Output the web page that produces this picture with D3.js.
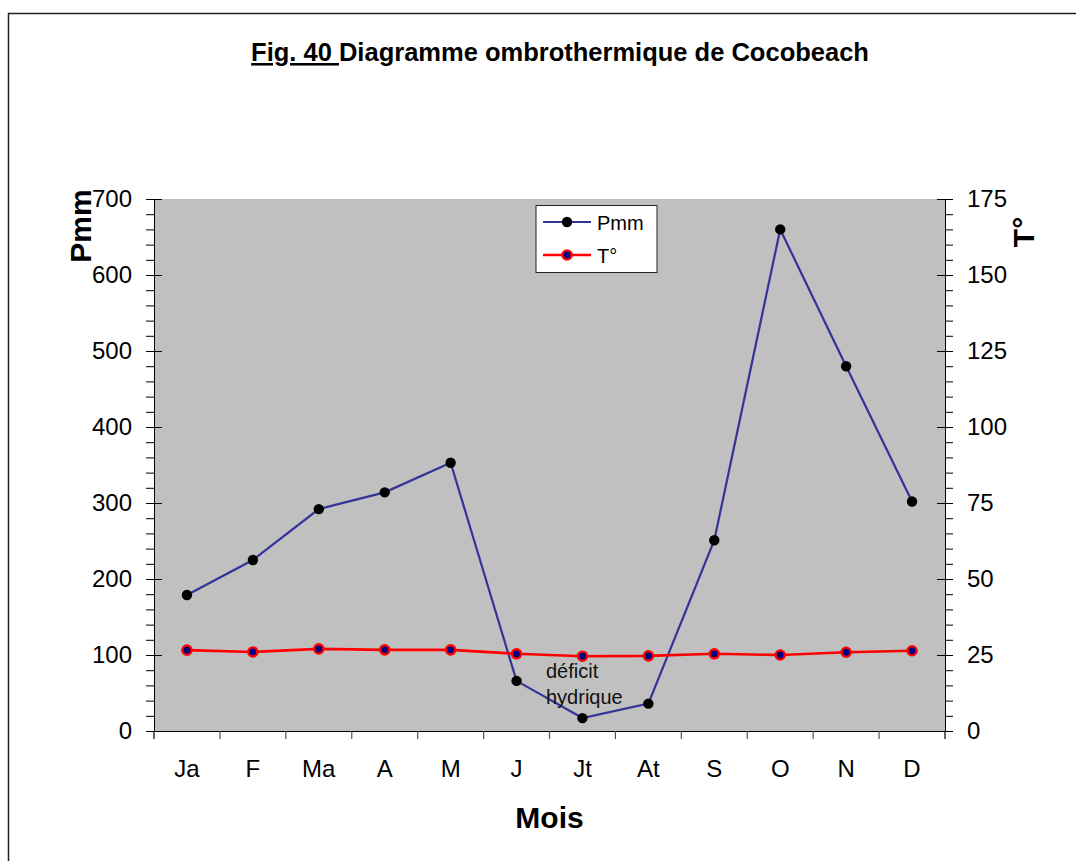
<!DOCTYPE html>
<html>
<head>
<meta charset="utf-8">
<script src="https://cdn.jsdelivr.net/npm/d3@7/dist/d3.min.js"></script>
<style>
  html, body { margin: 0; padding: 0; background: #fff; }
  svg { display: block; font-family: "Liberation Sans", Arial, sans-serif; }
</style>
</head>
<body>
<svg id="chart" width="1076" height="861"></svg>
<script>
// Monthly data for Cocobeach
const months = ["Ja", "F", "Ma", "A", "M", "J", "Jt", "At", "S", "O", "N", "D"];
const rainfall = [179, 225, 292, 314, 353, 66, 17, 36, 251, 660, 480, 302];          // Pmm
const temperature = [26.6, 26.0, 27.0, 26.7, 26.7, 25.4, 24.6, 24.7, 25.4, 25.0, 25.9, 26.4]; // T°
const leftTicks = [0, 100, 200, 300, 400, 500, 600, 700];
const rightTicks = [0, 25, 50, 75, 100, 125, 150, 175];

const svg = d3.select("#chart");
const plot = { left: 154, right: 945, top: 199, bottom: 731 };

const x = d3.scaleBand().domain(months).range([plot.left, plot.right]);
const yL = d3.scaleLinear().domain([0, 700]).range([plot.bottom, plot.top]);
const yR = d3.scaleLinear().domain([0, 175]).range([plot.bottom, plot.top]);
const cx = d => x(d) + x.bandwidth() / 2;

// page frame
svg.append("path")
  .attr("d", "M8.5,900 L8.5,13.5 L1100,13.5")
  .attr("fill", "none").attr("stroke", "#222").attr("stroke-width", 1.5);

// title
const title = svg.append("text")
  .attr("x", 560).attr("y", 61)
  .attr("text-anchor", "middle")
  .attr("font-weight", "bold").attr("font-size", 25.5).attr("fill", "#000");
title.append("tspan").attr("text-decoration", "underline").text("Fig. 40 ");
title.append("tspan").text("Diagramme ombrothermique de Cocobeach");

// plot background
svg.append("rect")
  .attr("x", plot.left).attr("y", plot.top)
  .attr("width", plot.right - plot.left).attr("height", plot.bottom - plot.top)
  .attr("fill", "#c0c0c0");

// left axis: minor ticks then major ticks crossing the axis
svg.append("g").attr("transform", `translate(${plot.left},0)`)
  .call(d3.axisLeft(yL).tickValues(d3.range(0, 701, 20)).tickSize(8).tickFormat(""))
  .call(g => g.select(".domain").remove());
const gl = svg.append("g").attr("transform", `translate(${plot.left},0)`)
  .call(d3.axisLeft(yL).tickValues(leftTicks).tickSizeInner(8).tickSizeOuter(0).tickPadding(14));
gl.selectAll(".tick line").attr("x1", 8);
gl.selectAll(".tick text").attr("font-size", 24).attr("font-family", "Liberation Sans, Arial, sans-serif").attr("fill", "#000");
gl.select(".domain").attr("stroke", "#000");

// right axis
svg.append("g").attr("transform", `translate(${plot.right},0)`)
  .call(d3.axisRight(yR).tickValues(d3.range(0, 176, 5)).tickSize(8).tickFormat(""))
  .call(g => g.select(".domain").remove());
const gr = svg.append("g").attr("transform", `translate(${plot.right},0)`)
  .call(d3.axisRight(yR).tickValues(rightTicks).tickSizeInner(8).tickSizeOuter(0).tickPadding(14));
gr.selectAll(".tick line").attr("x1", -8);
gr.selectAll(".tick text").attr("font-size", 24).attr("font-family", "Liberation Sans, Arial, sans-serif").attr("fill", "#000");
gr.select(".domain").attr("stroke", "#000");

// bottom axis: month labels centred, ticks on band edges
const gb = svg.append("g").attr("transform", `translate(0,${plot.bottom})`)
  .call(d3.axisBottom(x).tickSize(0).tickPadding(29));
gb.select(".domain").attr("d", `M${plot.left - 8},0.5H${plot.right + 8}`).attr("stroke", "#000");
gb.selectAll(".tick text").attr("font-size", 24).attr("font-family", "Liberation Sans, Arial, sans-serif").attr("fill", "#000");
const edges = months.map(m => x(m)).concat([plot.right]);
gb.selectAll("line.edge").data(edges).join("line")
  .attr("class", "edge")
  .attr("x1", d => d).attr("x2", d => d)
  .attr("y1", 0).attr("y2", 8)
  .attr("stroke", (d, i) => (i === 0 || i === edges.length - 1) ? "#000" : "#555")
  .attr("stroke-width", 1.2);

// axis titles
svg.append("text")
  .attr("transform", "translate(91,226) rotate(-90)")
  .attr("text-anchor", "middle")
  .attr("font-weight", "bold").attr("font-size", 30).text("Pmm");
svg.append("text")
  .attr("transform", "translate(1034,232) rotate(-90)")
  .attr("text-anchor", "middle")
  .attr("font-weight", "bold").attr("font-size", 30).text("T°");
svg.append("text")
  .attr("x", (plot.left + plot.right) / 2).attr("y", 828)
  .attr("text-anchor", "middle")
  .attr("font-weight", "bold").attr("font-size", 30).text("Mois");

// rainfall series
const rainLine = d3.line().x((d, i) => cx(months[i])).y(d => yL(d));
svg.append("path").datum(rainfall)
  .attr("d", rainLine)
  .attr("fill", "none").attr("stroke", "#333399").attr("stroke-width", 2.2);
svg.append("g").selectAll("circle").data(rainfall).join("circle")
  .attr("cx", (d, i) => cx(months[i])).attr("cy", d => yL(d))
  .attr("r", 5.2).attr("fill", "#000");

// temperature series
const tempLine = d3.line().x((d, i) => cx(months[i])).y(d => yR(d));
svg.append("path").datum(temperature)
  .attr("d", tempLine)
  .attr("fill", "none").attr("stroke", "#ff0000").attr("stroke-width", 2.6);
svg.append("g").selectAll("circle").data(temperature).join("circle")
  .attr("cx", (d, i) => cx(months[i])).attr("cy", d => yR(d))
  .attr("r", 4.6).attr("fill", "#000080").attr("stroke", "#ff0000").attr("stroke-width", 2.4);

// annotation
const note = svg.append("text").attr("font-size", 20).attr("fill", "#111");
note.append("tspan").attr("x", 546).attr("y", 678).text("déficit");
note.append("tspan").attr("x", 546).attr("y", 704).text("hydrique");

// legend
const lg = svg.append("g");
lg.append("rect").attr("x", 536).attr("y", 205.5).attr("width", 121).attr("height", 67)
  .attr("fill", "#fff").attr("stroke", "#222").attr("stroke-width", 1);
lg.append("line").attr("x1", 543).attr("x2", 591).attr("y1", 222).attr("y2", 222)
  .attr("stroke", "#333399").attr("stroke-width", 2.2);
lg.append("circle").attr("cx", 567).attr("cy", 222).attr("r", 5.2).attr("fill", "#000");
lg.append("text").attr("x", 597).attr("y", 229.5).attr("font-size", 20).text("Pmm");
lg.append("line").attr("x1", 543).attr("x2", 591).attr("y1", 255).attr("y2", 255)
  .attr("stroke", "#ff0000").attr("stroke-width", 2.6);
lg.append("circle").attr("cx", 567).attr("cy", 255).attr("r", 4.6)
  .attr("fill", "#000080").attr("stroke", "#ff0000").attr("stroke-width", 2.4);
lg.append("text").attr("x", 597).attr("y", 262.5).attr("font-size", 20).text("T°");
</script>
</body>
</html>
